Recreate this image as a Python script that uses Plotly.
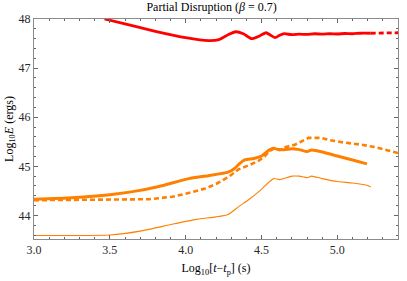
import plotly.graph_objects as go

# Red curve (solid part, then dashed continuation)
red_x = [3.465, 3.6, 3.8, 4.0, 4.15, 4.22, 4.28, 4.33, 4.38, 4.435, 4.49, 4.53, 4.56, 4.59, 4.62, 4.65,
         4.7, 4.75, 4.8, 4.85, 4.9, 4.95, 5.0, 5.05, 5.1, 5.15, 5.22]
red_y = [48.0, 47.90, 47.75, 47.62, 47.56, 47.58, 47.68, 47.74, 47.70, 47.60, 47.66, 47.72, 47.67, 47.62, 47.67, 47.70,
         47.68, 47.69, 47.685, 47.70, 47.69, 47.70, 47.695, 47.705, 47.70, 47.71, 47.71]
red_dash_x = [5.22, 5.3, 5.4]
red_dash_y = [47.71, 47.715, 47.72]

# Thick solid orange
o1_x = [3.0, 3.25, 3.5, 3.7, 3.85, 4.02, 4.15, 4.28, 4.32, 4.35, 4.39, 4.45, 4.5, 4.55, 4.58, 4.6, 4.65,
        4.7, 4.75, 4.8, 4.83, 4.9, 5.0, 5.1, 5.195]
o1_y = [44.33, 44.36, 44.42, 44.51, 44.61, 44.75, 44.81, 44.88, 44.95, 45.04, 45.13, 45.16, 45.21, 45.33, 45.37, 45.35, 45.34,
        45.36, 45.34, 45.30, 45.33, 45.29, 45.21, 45.13, 45.05]

# Dashed orange
o2_x = [3.0, 3.5, 3.76, 3.91, 4.0, 4.13, 4.2, 4.28, 4.35, 4.415, 4.48, 4.52, 4.55, 4.58, 4.62, 4.656,
        4.72, 4.76, 4.81, 4.89, 4.94, 5.03, 5.16, 5.25, 5.4]
o2_y = [44.31, 44.32, 44.33, 44.38, 44.44, 44.55, 44.64, 44.78, 44.94, 45.02, 45.11, 45.20, 45.30, 45.36, 45.33, 45.39,
        45.44, 45.50, 45.58, 45.58, 45.54, 45.49, 45.44, 45.39, 45.27]

# Thin solid orange
o3_x = [3.0, 3.25, 3.5, 3.7, 3.91, 4.07, 4.2, 4.28, 4.35, 4.415, 4.48, 4.55, 4.58, 4.62,
        4.7, 4.75, 4.8, 4.83, 4.9, 5.0, 5.1, 5.2, 5.22]
o3_y = [43.59, 43.59, 43.60, 43.68, 43.82, 43.92, 43.97, 44.02, 44.18, 44.32, 44.48, 44.68, 44.75, 44.73,
        44.80, 44.80, 44.77, 44.80, 44.75, 44.69, 44.66, 44.61, 44.58]

x_ticks = [3.0, 3.5, 4.0, 4.5, 5.0]
y_ticks = [44, 45, 46, 47, 48]

RED = "rgb(255,0,0)"
ORANGE = "rgb(255,128,0)"

fig = go.Figure()
fig.add_trace(go.Scatter(x=o3_x, y=o3_y, mode="lines", line=dict(color=ORANGE, width=1.1, shape="spline", smoothing=0.5), showlegend=False))
fig.add_trace(go.Scatter(x=o2_x, y=o2_y, mode="lines", line=dict(color=ORANGE, width=2.6, dash="5px,3px"), showlegend=False))
fig.add_trace(go.Scatter(x=o1_x, y=o1_y, mode="lines", line=dict(color=ORANGE, width=3, shape="spline", smoothing=0.5), showlegend=False))
fig.add_trace(go.Scatter(x=red_x, y=red_y, mode="lines", line=dict(color=RED, width=2.8, shape="spline", smoothing=0.6), showlegend=False))
fig.add_trace(go.Scatter(x=red_dash_x, y=red_dash_y, mode="lines", line=dict(color=RED, width=2.8, dash="5px,3px"), showlegend=False))

FONT = "Liberation Serif"
axis_common = dict(
    showgrid=False, zeroline=False, showline=True, linecolor="rgb(140,140,140)", linewidth=1,
    mirror="ticks", ticks="inside", ticklen=4, tickcolor="rgb(100,100,100)", tickwidth=1,
    tickfont=dict(family=FONT, size=12, color="rgb(40,40,40)"),
)
fig.update_layout(
    width=407, height=281,
    margin=dict(l=34, r=8, t=19, b=36),
    plot_bgcolor="white", paper_bgcolor="white",
    title=dict(text="Partial Disruption (<i>β</i> = 0.7)", x=0.52, xanchor="center", y=0.992, yanchor="top",
               font=dict(family=FONT, size=12, color="black")),
    xaxis=dict(range=[3.0, 5.4], tickvals=x_ticks, ticktext=["%.1f" % v for v in x_ticks],
               minor=dict(dtick=0.1, tick0=3.0, ticks="inside", ticklen=2, tickcolor="rgb(100,100,100)"),
               title=dict(text="Log<sub>10</sub>[<i>t</i>−<i>t</i><sub>p</sub>] (s)", standoff=7,
                          font=dict(family=FONT, size=12, color="black")),
               **axis_common),
    yaxis=dict(range=[43.52, 48.0], tickvals=y_ticks, ticktext=[str(v) for v in y_ticks],
               minor=dict(dtick=0.2, tick0=44, ticks="inside", ticklen=2, tickcolor="rgb(100,100,100)"),
               title=dict(text="Log<sub>10</sub><i>E</i> (ergs)", standoff=2,
                          font=dict(family=FONT, size=12, color="black")),
               **axis_common),
)
fig.write_html("out.html", config={"displayModeBar": False},
               post_script="document.body.style.margin='0';document.body.style.padding='0';")
